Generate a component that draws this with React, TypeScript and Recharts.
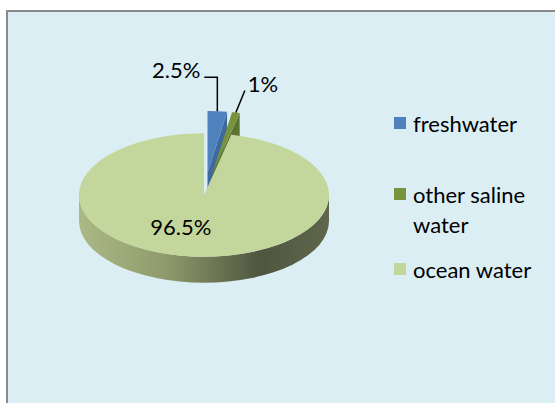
import React from 'react';
import { PieChart, Pie, Legend } from 'recharts';

// ---- data ----
const categories = ['freshwater', 'other saline water', 'ocean water'];
const shares = [2.5, 1, 96.5];
const valueLabels = ['2.5%', '1%', '96.5%'];

// ---- styles ----
const topColors = ['#4F81BD', '#77933C', '#C3D69B'];
const wallColors = ['#3E6A9E', '#5B7330', '#8E9B6B'];
const explodedSlices = [true, true, false];
const legendGaps = [41, 15, 0];
const FONT = 'Lato, "Open Sans", sans-serif';

const K = 0.494; // vertical squash of the 3D ellipse
const DEPTH = 26;
const EXPLODE = 45;

const data = categories.map((name, i) => ({ name, value: shares[i], fill: topColors[i] }));

const rad = (d: number) => (d * Math.PI) / 180;
const pt = (cx: number, cy: number, r: number, a: number): [number, number] => [
  cx + r * Math.cos(rad(a)),
  cy - r * K * Math.sin(rad(a)),
];

function explodeOffset(index: number, midAngle: number): [number, number] {
  const off = explodedSlices[index] ? EXPLODE : 0;
  return [off * Math.cos(rad(midAngle)), -off * K * Math.sin(rad(midAngle))];
}

function Slice3D(props: any) {
  const { cx, cy, outerRadius: r, startAngle, endAngle, midAngle, index, fill } = props;
  const [ox, oy] = explodeOffset(index, midAngle);
  const x0 = cx + ox;
  const y0 = cy + oy;
  const hi = Math.max(startAngle, endAngle);
  const lo = Math.min(startAngle, endAngle);
  const ry = r * K;
  const [sx, sy] = pt(x0, y0, r, hi);
  const [ex, ey] = pt(x0, y0, r, lo);
  const large = hi - lo > 180 ? 1 : 0;
  const top = `M${x0},${y0} L${sx},${sy} A${r},${ry} 0 ${large} 1 ${ex},${ey} Z`;
  const gid = `wallGrad${index}`;
  const walls: React.ReactNode[] = [];
  for (const k of [-720, -360, 0, 360]) {
    const a2 = Math.min(hi, k);
    const a1 = Math.max(lo, k - 180);
    if (a2 - a1 > 0.01) {
      const [p2x, p2y] = pt(x0, y0, r, a2);
      const [p1x, p1y] = pt(x0, y0, r, a1);
      const d = `M${p2x},${p2y} A${r},${ry} 0 0 1 ${p1x},${p1y} L${p1x},${p1y + DEPTH} A${r},${ry} 0 0 0 ${p2x},${p2y + DEPTH} Z`;
      walls.push(<path key={`o${k}`} d={d} fill={`url(#${gid})`} />);
    }
  }
  const radial = (a: number, key: string) => {
    const [px, py] = pt(x0, y0, r, a);
    const d = `M${x0},${y0} L${px},${py} L${px},${py + DEPTH} L${x0},${y0 + DEPTH} Z`;
    return <path key={key} d={d} fill={wallColors[index]} />;
  };
  if (Math.cos(rad(lo)) > 0.01) walls.push(radial(lo, 'rl'));
  if (Math.cos(rad(hi)) < -0.01) walls.push(radial(hi, 'rh'));
  return (
    <g>
      <defs>
        <linearGradient id={gid} gradientUnits="userSpaceOnUse" x1={x0 - r} y1={0} x2={x0 + r} y2={0}>
          <stop offset="0%" stopColor="#ABB986" />
          <stop offset="35%" stopColor="#8E9A6B" />
          <stop offset="72%" stopColor="#4F5640" />
          <stop offset="100%" stopColor="#5E664A" />
        </linearGradient>
      </defs>
      {walls}
      <path d={top} fill={fill} />
    </g>
  );
}

function renderLabel(props: any) {
  const { cx, cy, midAngle, outerRadius: r, index } = props;
  const text = valueLabels[index];
  if (!explodedSlices[index]) {
    const [x, y] = pt(cx, cy, r * 0.52, midAngle);
    return (
      <text x={x - 16} y={y + 8} textAnchor="middle" fontFamily={FONT} fontSize={22} fill="#000">
        {text}
      </text>
    );
  }
  const [ox, oy] = explodeOffset(index, midAngle);
  const [px, py] = pt(cx + ox, cy + oy, r, midAngle);
  if (index === 0) {
    const ty = py - 34;
    return (
      <g>
        <polyline points={`${px},${py} ${px},${ty} ${px - 13},${ty}`} fill="none" stroke="#000" strokeWidth={1.5} />
        <text x={px - 17} y={ty + 1} textAnchor="end" fontFamily={FONT} fontSize={22} fill="#000">
          {text}
        </text>
      </g>
    );
  }
  const lx = px + 9;
  const ly = py - 22;
  return (
    <g>
      <line x1={px} y1={py} x2={lx} y2={ly} stroke="#000" strokeWidth={1.5} />
      <text x={lx + 3} y={ly + 1} textAnchor="start" fontFamily={FONT} fontSize={22} fill="#000">
        {text}
      </text>
    </g>
  );
}

function LegendList(props: any) {
  const payload = props.payload && props.payload.length ? props.payload : [];
  const items = categories.map((name, i) => {
    const p = payload.find((q: any) => q.value === name);
    return { name, color: (p && p.color) || topColors[i] };
  });
  return (
    <div style={{ fontFamily: FONT, fontSize: 22, color: '#000' }}>
      {items.map((it, i) => (
        <div key={it.name} style={{ display: 'flex', alignItems: 'flex-start', marginBottom: legendGaps[i] }}>
          <div style={{ width: 12, height: 12, background: it.color, marginTop: 8, marginRight: 7, flex: 'none' }} />
          <div style={{ lineHeight: '30px', width: 132 }}>{it.name}</div>
        </div>
      ))}
    </div>
  );
}

export default function App() {
  return (
    <div style={{ position: 'absolute', left: 0, top: 0, width: 555, height: 403, overflow: 'hidden', background: '#fff' }}>
      <div
        style={{
          position: 'absolute',
          left: 6,
          top: 10,
          width: 580,
          height: 420,
          border: '2px solid #8A8A8A',
          background: '#DBEEF4',
        }}
      />
      <div style={{ position: 'absolute', left: 0, top: 0 }}>
        <PieChart width={555} height={403} margin={{ top: 0, right: 0, bottom: 0, left: 0 }}>
          <Pie
            data={data}
            dataKey="value"
            nameKey="name"
            cx={204}
            cy={195}
            outerRadius={125}
            startAngle={90}
            endAngle={-270}
            stroke="none"
            isAnimationActive={false}
            shape={Slice3D}
            label={renderLabel}
            labelLine={false}
          />
          <Legend
            layout="vertical"
            align="right"
            verticalAlign="top"
            wrapperStyle={{ left: 394, top: 109, width: 160 }}
            content={(p: any) => <LegendList {...p} />}
          />
        </PieChart>
      </div>
    </div>
  );
}
